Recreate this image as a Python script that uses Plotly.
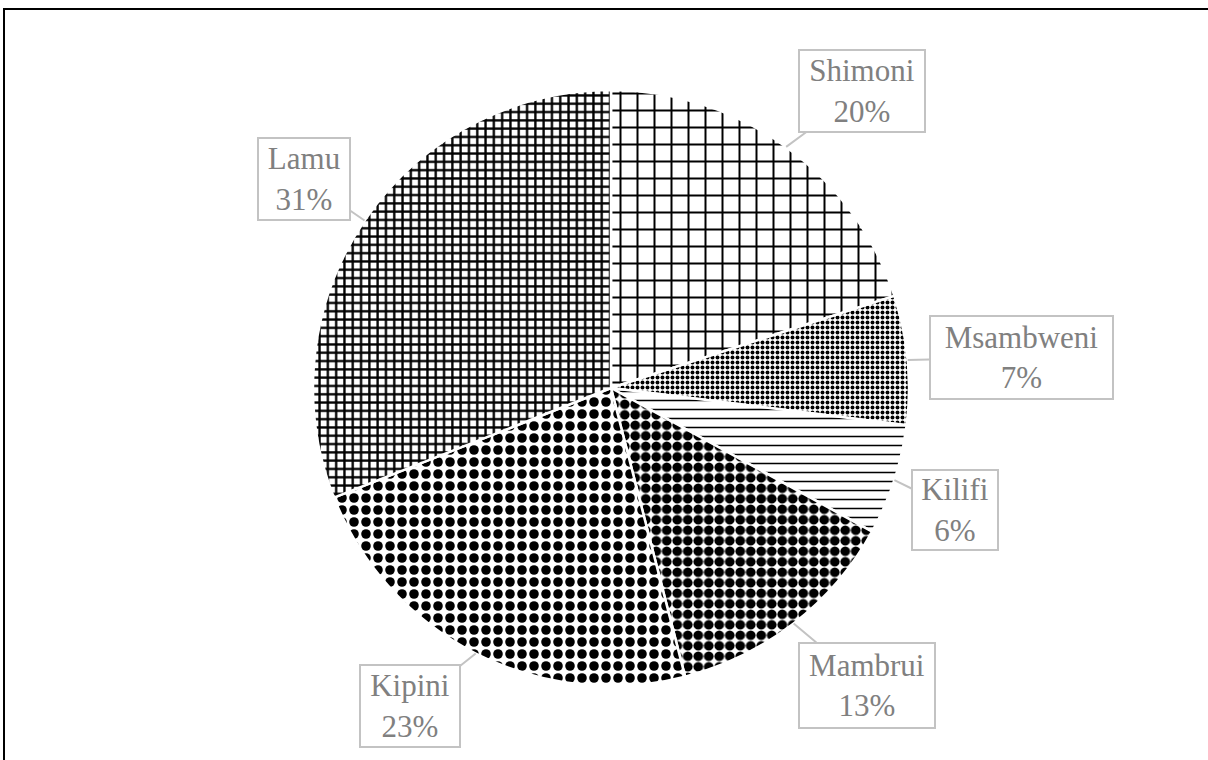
import math
import plotly.graph_objects as go

# Share of landings by site
sites = ["Shimoni", "Msambweni", "Kilifi", "Mambrui", "Kipini", "Lamu"]
shares = [20, 7, 6, 13, 23, 31]

# Fill texture for each site (plotly pattern shapes)
pattern_shape = ["+", ".", "-", ".", ".", "+"]
pattern_size = [17, 5, 9, 10.5, 12, 8.3]
pattern_solidity = [0.22, 0.5, 0.17, 0.68, 0.5, 0.48]

# Callout box centres (pixels from top-left) and box sizes
label_centres = [(862, 91), (1021, 358), (955, 510), (867, 685), (410, 706), (304, 179)]
label_sizes = [(124, 80), (181, 81), (84, 78), (134, 83), (98, 80), (90, 80)]

W, H = 1208, 760
CX, CY, R = 611, 388, 298  # pie centre and radius in pixels

dom_x = [(CX - R) / W, (CX + R) / W]
dom_y = [1 - (CY + R) / H, 1 - (CY - R) / H]

fig = go.Figure(
    go.Pie(
        labels=sites,
        values=shares,
        sort=False,
        direction="clockwise",
        rotation=0,
        textinfo="none",
        hoverinfo="label+percent",
        showlegend=False,
        domain=dict(x=dom_x, y=dom_y),
        marker=dict(
            colors=["white"] * len(sites),
            line=dict(color="white", width=2.5),
            pattern=dict(
                shape=pattern_shape,
                size=pattern_size,
                solidity=pattern_solidity,
                fgcolor="black",
                bgcolor="white",
                fillmode="replace",
            ),
        ),
    )
)

total = sum(shares)
cum = 0
annotations = []
for name, v, (bx, by), (bw, bh) in zip(sites, shares, label_centres, label_sizes):
    mid = 2 * math.pi * (cum + v / 2) / total
    cum += v
    tx = CX + R * math.sin(mid)
    ty = CY - R * math.cos(mid)
    pct = round(100 * v / total)
    annotations.append(
        dict(
            x=tx / W,
            y=1 - ty / H,
            xref="paper",
            yref="paper",
            ax=bx - tx,
            ay=by - ty,
            axref="pixel",
            ayref="pixel",
            text=f"{name}<br>{pct}%",
            showarrow=True,
            arrowhead=0,
            arrowwidth=2,
            arrowcolor="#c3c3c3",
            standoff=0,
            bordercolor="#c3c3c3",
            borderwidth=2,
            borderpad=0,
            bgcolor="white",
            width=bw,
            height=bh,
            align="center",
            valign="middle",
            font=dict(family="Liberation Serif", size=31, color="#808080"),
        )
    )

fig.update_layout(
    width=W,
    height=H,
    margin=dict(l=0, r=0, t=0, b=0),
    paper_bgcolor="white",
    plot_bgcolor="white",
    annotations=annotations,
    shapes=[
        dict(
            type="rect",
            xref="paper",
            yref="paper",
            x0=4 / W,
            x1=1.02,
            y0=-0.02,
            y1=1 - 9 / H,
            line=dict(color="black", width=2),
            fillcolor="rgba(0,0,0,0)",
            layer="above",
        )
    ],
)

fig.write_html("out.html")
